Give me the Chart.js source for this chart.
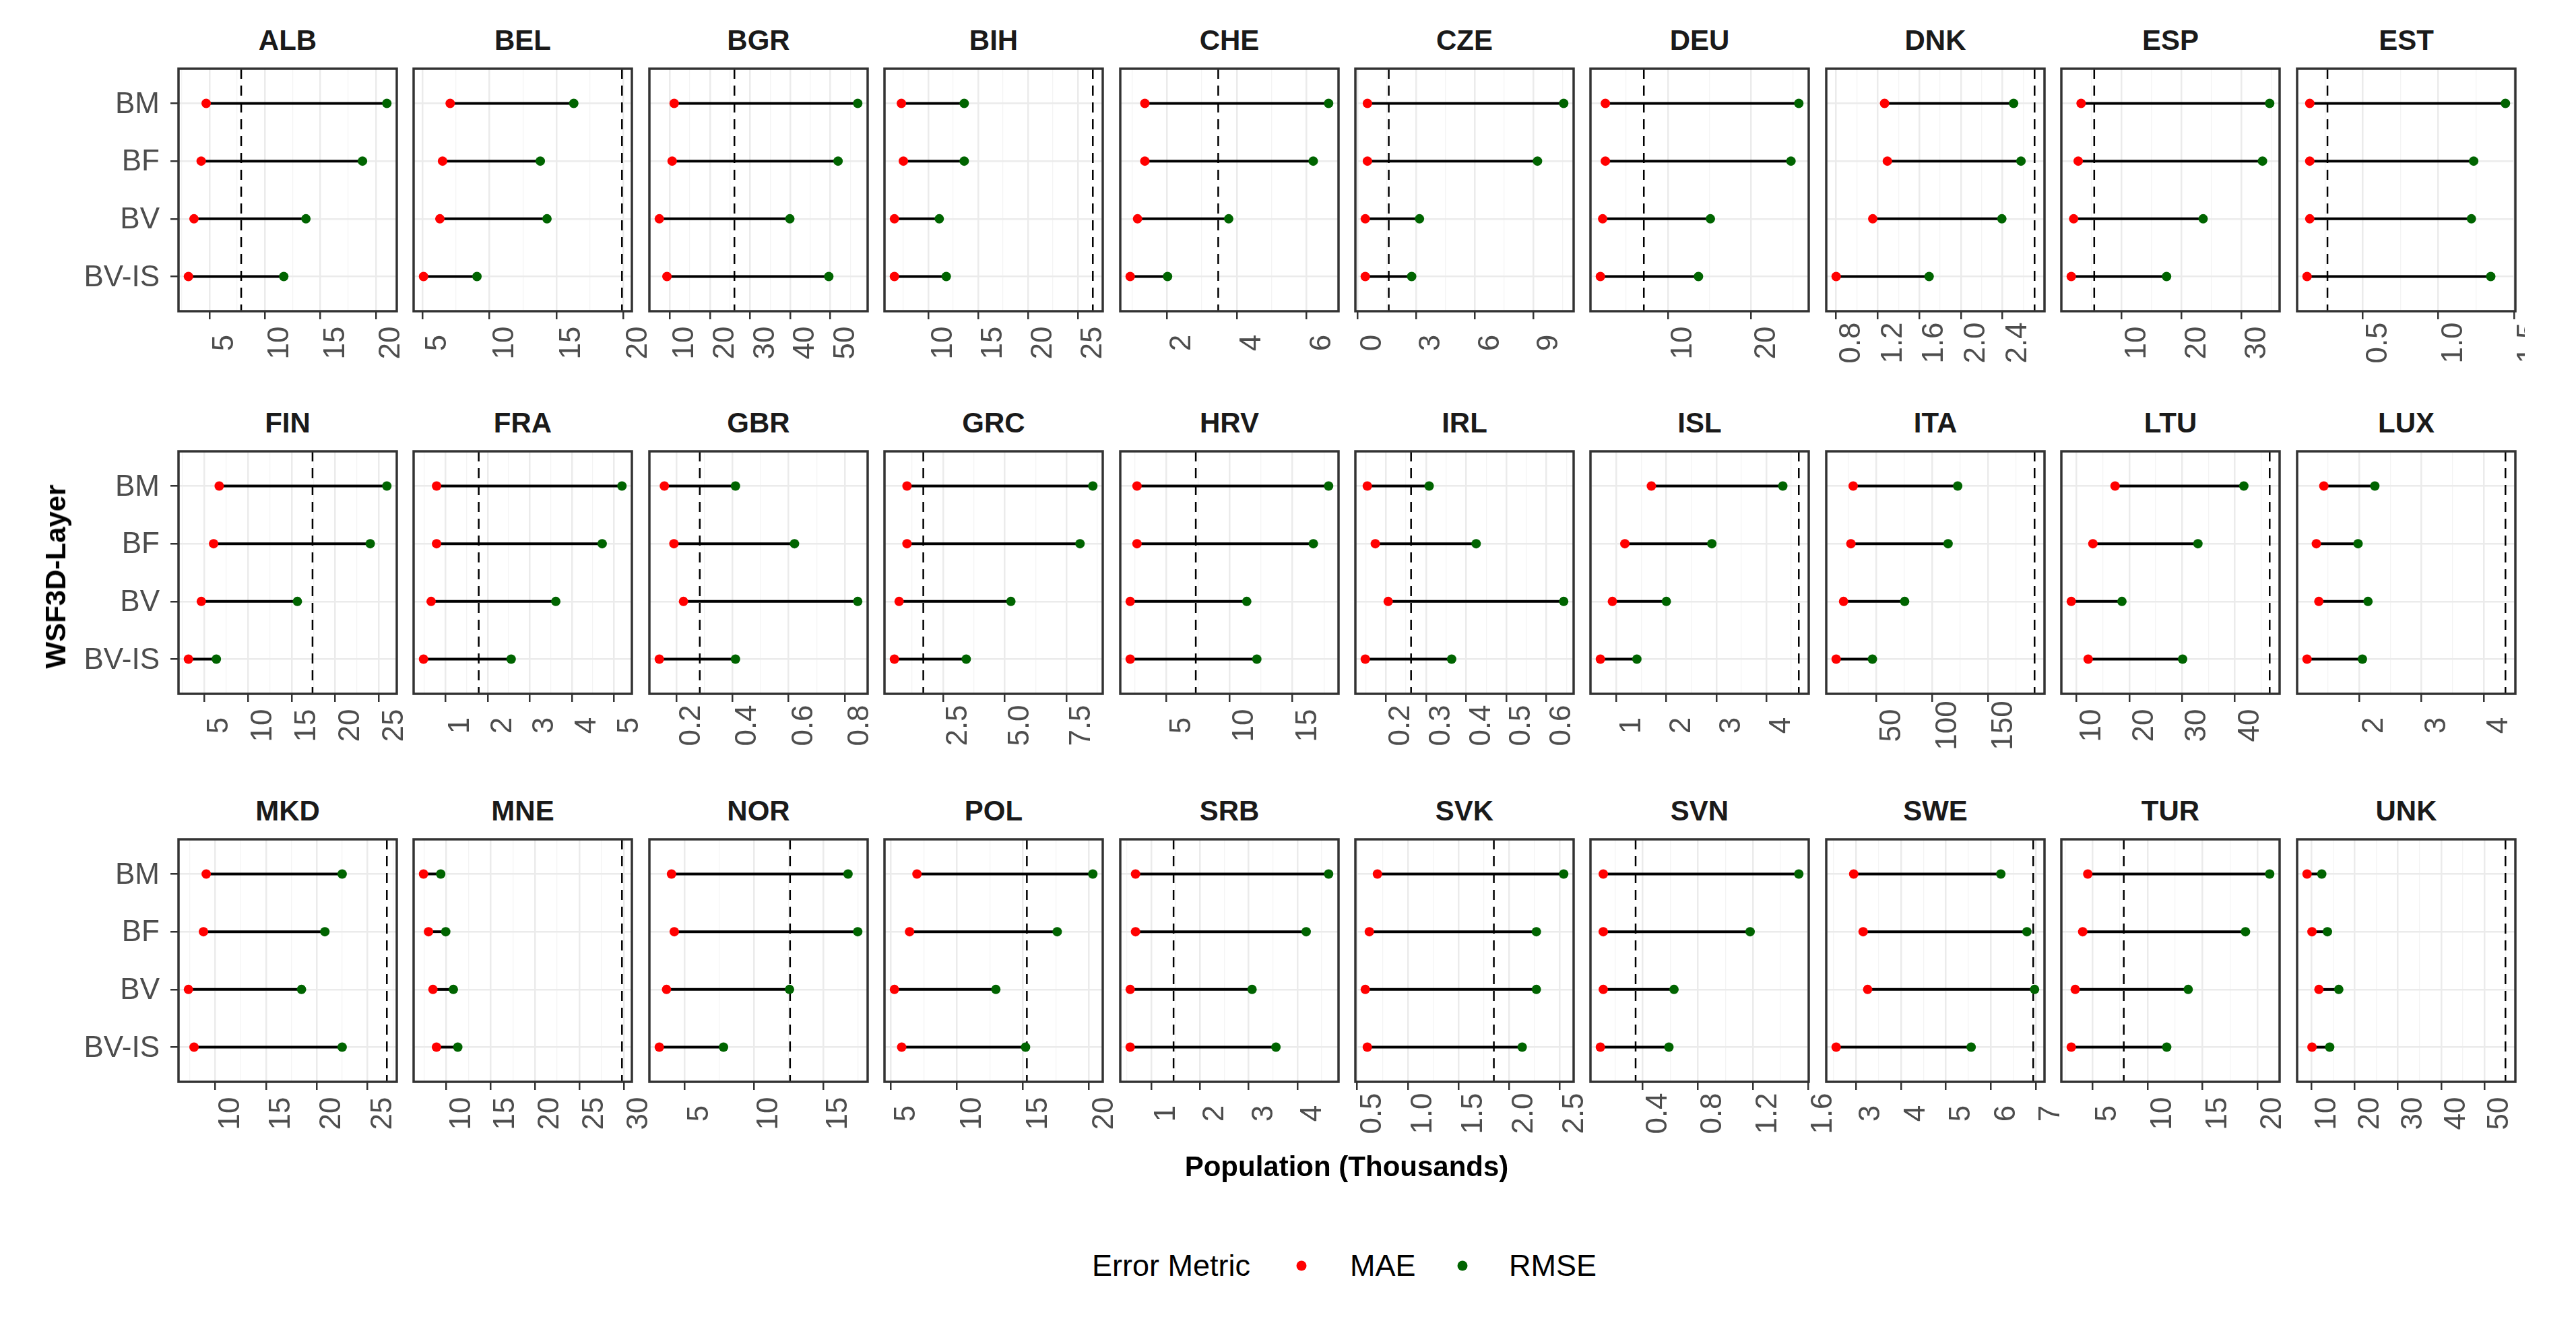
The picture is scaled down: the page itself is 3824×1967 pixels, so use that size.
<!DOCTYPE html>
<html>
<head>
<meta charset="utf-8">
<script src="https://cdn.jsdelivr.net/npm/chart.js@4.4.1/dist/chart.umd.min.js"></script>
<style>
  body { margin: 0; background: #fff; }
  #page { position: relative; width: 3748px; height: 1967px; overflow: hidden; font-family: "Liberation Sans", Arial, sans-serif; }
  canvas { position: absolute; }
  .strip { position: absolute; font-weight: bold; font-size: 42px; color: #1a1a1a; transform: translate(-50%, -50%); white-space: nowrap; }
  .title { position: absolute; font-weight: bold; font-size: 42px; color: #000; white-space: nowrap; }
  .legend { position: absolute; font-size: 45px; color: #000; white-space: nowrap; transform: translateY(-50%); }
  .dot { position: absolute; width: 15px; height: 15px; border-radius: 50%; transform: translate(-50%, -50%); }
</style>
</head>
<body>
<div id="page"></div>
<script>
// facets, in the order they are drawn (left to right, top to bottom)
const countries = ['ALB', 'BEL', 'BGR', 'BIH', 'CHE', 'CZE', 'DEU', 'DNK', 'ESP', 'EST',
                   'FIN', 'FRA', 'GBR', 'GRC', 'HRV', 'IRL', 'ISL', 'ITA', 'LTU', 'LUX',
                   'MKD', 'MNE', 'NOR', 'POL', 'SRB', 'SVK', 'SVN', 'SWE', 'TUR', 'UNK'];
const layers = ['BM', 'BF', 'BV', 'BV-IS'];

// error values per country, one entry per layer (BM, BF, BV, BV-IS), thousands
const maeValues = [
  [4.7, 4.25, 3.6, 3.1], [7.07, 6.5, 6.3, 5.08], [11.1, 10.6, 7.4, 9.3], [7.3, 7.5, 6.6, 6.6],
  [1.37, 1.37, 1.16, 0.95], [0.51, 0.51, 0.4, 0.4], [2.51, 2.51, 2.18, 1.91], [1.266, 1.293, 1.152, 0.8],
  [3.24, 2.76, 2.0, 1.6], [0.15, 0.15, 0.15, 0.132],
  [6.73, 6.09, 4.68, 3.21], [0.79, 0.79, 0.66, 0.48], [0.158, 0.192, 0.226, 0.14], [1.04, 1.04, 0.72, 0.53],
  [2.67, 2.67, 2.13, 2.13], [0.154, 0.174, 0.206, 0.149], [1.7, 1.17, 0.92, 0.68], [29.3, 27.3, 20.7, 14.1],
  [17.3, 13.1, 9.0, 12.2], [1.43, 1.31, 1.35, 1.16],
  [9.12, 8.85, 7.37, 7.92], [7.44, 8.0, 8.5, 8.9], [4.07, 4.27, 3.71, 3.19], [6.97, 6.41, 5.26, 5.81],
  [0.68, 0.68, 0.57, 0.57], [0.7, 0.62, 0.58, 0.6], [0.113, 0.113, 0.113, 0.092], [2.95, 3.16, 3.26, 2.56],
  [4.58, 4.12, 3.44, 3.08], [8.95, 10.1, 11.7, 10.1]
];
const rmseValues = [
  [21.0, 18.8, 13.7, 11.7], [16.3, 13.8, 14.3, 9.07], [56.8, 51.9, 39.9, 49.6], [13.6, 13.6, 11.1, 11.8],
  [6.63, 6.19, 3.77, 2.02], [10.54, 9.2, 3.17, 2.77], [25.7, 24.76, 15.1, 13.67], [2.508, 2.579, 2.395, 1.695],
  [34.7, 33.5, 23.6, 17.5], [1.443, 1.233, 1.218, 1.346],
  [25.9, 24.0, 15.67, 6.4], [5.19, 4.72, 3.62, 2.56], [0.411, 0.621, 0.846, 0.411], [8.57, 8.05, 5.25, 3.44],
  [17.86, 16.65, 11.37, 12.17], [0.308, 0.425, 0.643, 0.364], [4.33, 2.91, 2.0, 1.41], [122.7, 114.1, 75.3, 46.5],
  [41.7, 33.0, 18.6, 30.1], [2.25, 1.98, 2.14, 2.05],
  [22.5, 20.8, 18.5, 22.5], [9.38, 9.94, 10.8, 11.3], [16.8, 17.5, 12.58, 7.82], [20.3, 17.6, 12.95, 15.2],
  [4.64, 4.18, 3.07, 3.56], [2.54, 2.27, 2.27, 2.13], [1.534, 1.18, 0.627, 0.59], [6.22, 6.8, 6.97, 5.56],
  [21.1, 18.9, 13.7, 11.75], [12.36, 13.67, 16.3, 14.2]
];
// dashed reference line per country
const refValues = [7.86, 19.9, 26.1, 26.5, 3.47, 1.6, 7.12, 2.71, 5.43, 0.267,
                   17.4, 1.79, 0.284, 1.7, 7.33, 0.263, 4.65, 191.4, 46.6, 4.35,
                   26.9, 29.8, 12.62, 15.3, 1.46, 1.85, 0.348, 6.94, 7.85, 54.9];

// x tick labels per panel (free scales)
const xTickLabels = [
  ['5', '10', '15', '20'], ['5', '10', '15', '20'], ['10', '20', '30', '40', '50'], ['10', '15', '20', '25'],
  ['2', '4', '6'], ['0', '3', '6', '9'], ['10', '20'], ['0.8', '1.2', '1.6', '2.0', '2.4'],
  ['10', '20', '30'], ['0.5', '1.0', '1.5'],
  ['5', '10', '15', '20', '25'], ['1', '2', '3', '4', '5'], ['0.2', '0.4', '0.6', '0.8'], ['2.5', '5.0', '7.5'],
  ['5', '10', '15'], ['0.2', '0.3', '0.4', '0.5', '0.6'], ['1', '2', '3', '4'], ['50', '100', '150'],
  ['10', '20', '30', '40'], ['2', '3', '4'],
  ['10', '15', '20', '25'], ['10', '15', '20', '25', '30'], ['5', '10', '15'], ['5', '10', '15', '20'],
  ['1', '2', '3', '4'], ['0.5', '1.0', '1.5', '2.0', '2.5'], ['0.4', '0.8', '1.2', '1.6'], ['3', '4', '5', '6', '7'],
  ['5', '10', '15', '20'], ['10', '20', '30', '40', '50']
];

const page = document.getElementById('page');
const panelW = 324, panelH = 360;
const rowTop = [102, 670, 1246];
const colLeft = c => 265 + c * 349.4;
const TICK = 12;
const labelFont = '44px "Liberation Sans", Arial, sans-serif';

// dashed line, panel border and the tick labels
const panelDecor = {
  id: 'panelDecor',
  beforeDatasetsDraw(chart, args, opts) {
    const {ctx, chartArea: a} = chart;
    const px = chart.scales.x.getPixelForValue(opts.ref);
    ctx.save();
    ctx.strokeStyle = '#000';
    ctx.lineWidth = 2.5;
    ctx.setLineDash([15, 10]);
    ctx.beginPath();
    ctx.moveTo(px, a.top);
    ctx.lineTo(px, a.bottom);
    ctx.stroke();
    ctx.restore();
  },
  afterDraw(chart, args, opts) {
    const {ctx, chartArea: a} = chart;
    ctx.save();
    ctx.strokeStyle = '#333333';
    ctx.lineWidth = 3.5;
    ctx.strokeRect(a.left, a.top, a.width, a.height);

    ctx.fillStyle = '#4d4d4d';
    ctx.font = labelFont;
    ctx.textAlign = 'center';
    ctx.textBaseline = 'middle';
    opts.labels.forEach(lab => {
      const px = chart.scales.x.getPixelForValue(parseFloat(lab));
      ctx.save();
      ctx.translate(px + 23, a.bottom + 47);
      ctx.rotate(-Math.PI / 2);
      ctx.fillText(lab, 0, 0);
      ctx.restore();
    });
    if (opts.showY) {
      ctx.textAlign = 'right';
      layers.forEach((l, j) => {
        ctx.fillText(l, a.left - TICK - 16, chart.scales.y.getPixelForValue(j + 1) + 2);
      });
    }
    ctx.restore();
  }
};

countries.forEach((name, i) => {
  const row = Math.floor(i / 10), col = i % 10;
  const mae = maeValues[i], rmse = rmseValues[i], ref = refValues[i];
  const all = mae.concat(rmse, [ref]);
  const lo = Math.min(...all), hi = Math.max(...all);
  const xMin = lo - 0.05 * (hi - lo), xMax = hi + 0.05 * (hi - lo);
  const majors = xTickLabels[i].map(parseFloat);
  const step = majors[1] - majors[0];
  const minors = [majors[0] - step / 2].concat(majors.map(v => v + step / 2))
    .filter(v => v > xMin && v < xMax);

  const padL = col === 0 ? 260 : 14, padR = 60, padT = 10, padB = 130;
  const left = Math.round(colLeft(col)), top = rowTop[row];
  const canvas = document.createElement('canvas');
  canvas.width = padL + panelW + padR;
  canvas.height = padT + panelH + padB;
  canvas.style.left = (left - padL) + 'px';
  canvas.style.top = (top - padT) + 'px';
  page.appendChild(canvas);

  const strip = document.createElement('div');
  strip.className = 'strip';
  strip.textContent = name;
  strip.style.left = (left + panelW / 2) + 'px';
  strip.style.top = (top - 42) + 'px';
  page.appendChild(strip);

  const segments = layers.map((l, j) => ({
    label: l,
    data: [{x: mae[j], y: j + 1}, {x: rmse[j], y: j + 1}],
    showLine: true,
    borderColor: '#000',
    borderWidth: 4,
    pointRadius: 0,
    order: 1
  }));

  new Chart(canvas, {
    type: 'scatter',
    data: {
      datasets: [
        {label: 'MAE', data: layers.map((l, j) => ({x: mae[j], y: j + 1})),
         backgroundColor: '#ff0000', pointRadius: 7, pointBorderWidth: 0, order: 0},
        {label: 'RMSE', data: layers.map((l, j) => ({x: rmse[j], y: j + 1})),
         backgroundColor: '#006400', pointRadius: 7, pointBorderWidth: 0, order: 0},
        ...segments
      ]
    },
    options: {
      responsive: false,
      animation: false,
      devicePixelRatio: 1,
      layout: {
        autoPadding: false,
        padding: {left: padL - (col === 0 ? TICK : 0), right: padR, top: padT, bottom: padB - TICK}
      },
      plugins: {
        legend: {display: false},
        tooltip: {enabled: false},
        panelDecor: {ref: ref, labels: xTickLabels[i], showY: col === 0}
      },
      scales: {
        x: {
          type: 'linear', min: xMin, max: xMax,
          border: {display: false},
          ticks: {display: false},
          afterBuildTicks: s => {
            s.ticks = majors.map(v => ({value: v})).concat(minors.map(v => ({value: v, minor: true})));
          },
          grid: {
            color: c => (c.tick && c.tick.minor) ? '#f4f4f4' : '#ebebeb',
            lineWidth: c => (c.tick && c.tick.minor) ? 1.3 : 2.5,
            tickColor: c => (c.tick && c.tick.minor) ? 'rgba(0,0,0,0)' : '#333333',
            tickLength: TICK,
            drawTicks: true
          }
        },
        y: {
          type: 'linear', min: 0.4, max: 4.6, reverse: true,
          border: {display: false},
          ticks: {display: false},
          afterBuildTicks: s => { s.ticks = layers.map((l, j) => ({value: j + 1})); },
          grid: {color: '#ebebeb', lineWidth: 2.5, drawTicks: col === 0, tickLength: TICK, tickColor: '#333333'}
        }
      }
    },
    plugins: [panelDecor]
  });
});

// axis titles
const xTitle = document.createElement('div');
xTitle.className = 'title';
xTitle.textContent = 'Population (Thousands)';
xTitle.style.left = '1999px';
xTitle.style.top = '1732px';
xTitle.style.transform = 'translate(-50%, -50%)';
page.appendChild(xTitle);

const yTitle = document.createElement('div');
yTitle.className = 'title';
yTitle.textContent = 'WSF3D-Layer';
yTitle.style.left = '83px';
yTitle.style.top = '856px';
yTitle.style.transform = 'translate(-50%, -50%) rotate(-90deg)';
page.appendChild(yTitle);

// legend
const legendItems = [
  {text: 'Error Metric', x: 1621},
  {dot: '#ff0000', x: 1932},
  {text: 'MAE', x: 2004},
  {dot: '#006400', x: 2171},
  {text: 'RMSE', x: 2240}
];
legendItems.forEach(it => {
  const el = document.createElement('div');
  if (it.dot) {
    el.className = 'dot';
    el.style.background = it.dot;
  } else {
    el.className = 'legend';
    el.textContent = it.text;
  }
  el.style.left = it.x + 'px';
  el.style.top = '1879px';
  page.appendChild(el);
});
</script>
</body>
</html>
